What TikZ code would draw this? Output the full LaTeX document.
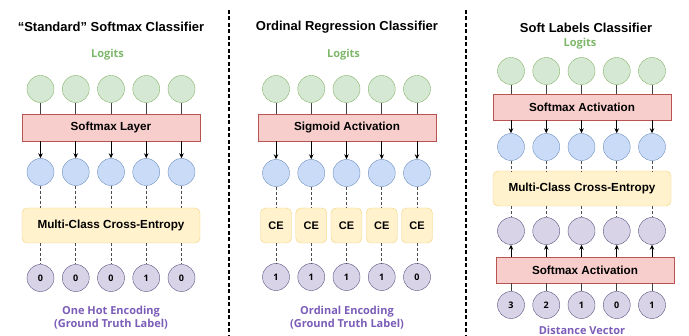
\documentclass[tikz,border=0pt]{standalone}
\usepackage{fontspec}
\setmainfont{Liberation Sans}
\newfontfamily\labelfont{Open Sans}
\usetikzlibrary{arrows.meta}

\definecolor{greenfill}{HTML}{D5E8D4}
\definecolor{greenline}{HTML}{82B366}
\definecolor{bluefill}{HTML}{C9DBF7}
\definecolor{blueline}{HTML}{6C8EBF}
\definecolor{redfill}{HTML}{F8CECC}
\definecolor{redline}{HTML}{B85450}
\definecolor{yellowfill}{HTML}{FFF2CC}
\definecolor{yellowline}{HTML}{F2D27A}
\definecolor{purplefill}{HTML}{D9D3E8}
\definecolor{purpleline}{HTML}{56517E}
\definecolor{logitstext}{HTML}{7DB76A}
\definecolor{labeltext}{HTML}{7B5CB8}

\tikzset{
  logit/.style={circle,draw=greenline,fill=greenfill,minimum size=27pt,inner sep=0pt},
  prob/.style={circle,draw=blueline,fill=bluefill,minimum size=27pt,inner sep=0pt},
  target/.style={circle,draw=purpleline,fill=purplefill,minimum size=27pt,inner sep=0pt,
    font=\labelfont\bfseries\fontsize{9}{9}\selectfont},
  redbox/.style={draw=redline,fill=redfill,minimum width=178pt,minimum height=27pt,
    font=\bfseries\fontsize{11.7}{12}\selectfont},
  yellowbox/.style={draw=yellowline,fill=yellowfill,rounded corners=5pt,minimum width=178pt,
    minimum height=35pt,font=\bfseries\fontsize{11.7}{12}\selectfont},
  cebox/.style={draw=yellowline,fill=yellowfill,rounded corners=5pt,minimum width=31pt,
    minimum height=35pt,font=\bfseries\fontsize{11}{11}\selectfont},
  title/.style={font=\bfseries\fontsize{13}{14}\selectfont},
  logits/.style={text=logitstext,font=\labelfont\bfseries\fontsize{11}{12}\selectfont},
  truth/.style={text=labeltext,align=center,font=\labelfont\bfseries\fontsize{11}{13}\selectfont},
  feed/.style={draw=black!75,line width=0.8pt},
  arrow/.style={draw=black,line width=0.8pt,-{Stealth[length=5pt,width=4.5pt]}},
  lossline/.style={draw=black!70,line width=0.8pt,dash pattern=on 3pt off 2pt},
  divider/.style={draw=black,line width=1.5pt,dash pattern=on 4pt off 2.5pt}
}

\begin{document}
\begin{tikzpicture}[x=1pt,y=-1pt]
\useasboundingbox (0,0) rectangle (689,336);

\draw[divider] (229,10) -- (229,336);
\draw[divider] (466,10) -- (466,336);

% standard softmax
\node[title] (stitle) at (111,27) {“Standard” Softmax Classifier};
\node[logits] (slogits) at (107.5,55) {Logits};
\node[redbox] (ssoftmax) at (111,127.5) {Softmax Layer};
\node[yellowbox] (sloss) at (111,225.5) {Multi-Class Cross-Entropy};
\node[truth] (struth) at (111,317.5) {One Hot Encoding\\(Ground Truth Label)};
\foreach \v [count=\i] in {0,0,0,1,0} {
  \pgfmathsetmacro\xx{5.25+35.25*\i}
  \node[logit] (sl\i) at (\xx,89) {};
  \node[prob] (sp\i) at (\xx,172) {};
  \node[target] (st\i) at (\xx,278) {\v};
  \draw[feed] (sl\i) -- (sl\i |- ssoftmax.north);
  \draw[arrow] (ssoftmax.south -| sp\i) -- (sp\i);
  \draw[lossline] (sp\i) -- (sp\i |- sloss.north);
  \draw[lossline] (sloss.south -| st\i) -- (st\i);
}

% ordinal regression
\node[title] (otitle) at (347,27) {Ordinal Regression Classifier};
\node[logits] (ologits) at (343.5,55) {Logits};
\node[redbox] (osigmoid) at (347,127.5) {Sigmoid Activation};
\node[truth] (otruth) at (347,317.5) {Ordinal Encoding\\(Ground Truth Label)};
\foreach \v [count=\i] in {1,1,1,1,0} {
  \pgfmathsetmacro\xx{240.75+35.25*\i}
  \node[logit] (ol\i) at (\xx,89) {};
  \node[prob] (op\i) at (\xx,173) {};
  \node[cebox] (oce\i) at (\xx,225.5) {CE};
  \node[target] (ot\i) at (\xx,277) {\v};
  \draw[feed] (ol\i) -- (ol\i |- osigmoid.north);
  \draw[arrow] (osigmoid.south -| op\i) -- (op\i);
  \draw[lossline] (op\i) -- (oce\i);
  \draw[lossline] (oce\i) -- (ot\i);
}

% soft labels
\node[title] (ktitle) at (586,28) {Soft Labels Classifier};
\node[logits] (klogits) at (580,44) {Logits};
\node[redbox,minimum height=26pt] (ksoftmax) at (582,107) {Softmax Activation};
\node[yellowbox] (kloss) at (582,188.5) {Multi-Class Cross-Entropy};
\node[redbox,minimum height=26pt] (kdsoftmax) at (585,270) {Softmax Activation};
\node[truth] (kdist) at (582,330) {Distance Vector};
\foreach \v [count=\i] in {3,2,1,0,1} {
  \pgfmathsetmacro\xx{475.75+35.25*\i}
  \node[logit] (kl\i) at (\xx,71) {};
  \node[prob] (kp\i) at (\xx,147) {};
  \node[target] (kq\i) at (\xx,231) {};
  \node[target] (kd\i) at (\xx,305) {\v};
  \draw[feed] (kl\i) -- (kl\i |- ksoftmax.north);
  \draw[arrow] (ksoftmax.south -| kp\i) -- (kp\i);
  \draw[lossline] (kp\i) -- (kp\i |- kloss.north);
  \draw[lossline] (kloss.south -| kq\i) -- (kq\i);
  \draw[arrow] (kdsoftmax.north -| kq\i) -- (kq\i);
  \draw[feed] (kd\i) -- (kd\i |- kdsoftmax.south);
}
\end{tikzpicture}
\end{document}
